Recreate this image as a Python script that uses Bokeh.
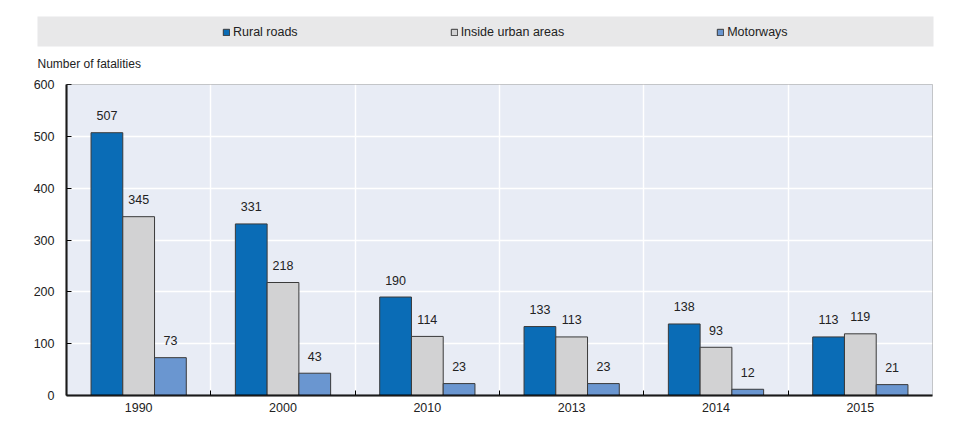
import numpy as np
from bokeh.plotting import figure
from bokeh.models import (ColumnDataSource, FixedTicker, Range1d, Legend, LegendItem,
                          BoxAnnotation, Label)
from bokeh.core.properties import value
from bokeh.embed import file_html
from bokeh.resources import INLINE

# ---- data ----
years = ["1990", "2000", "2010", "2013", "2014", "2015"]
rural_roads = [507, 331, 190, 133, 138, 113]
urban_areas = [345, 218, 114, 113, 93, 119]
motorways = [73, 43, 23, 23, 12, 21]
series_names = ["Rural roads", "Inside urban areas", "Motorways"]
y_ticks = [0, 100, 200, 300, 400, 500, 600]
y_label = "Number of fatalities"

# ---- style / geometry (pixels) ----
FONT = "Liberation Sans"
FS = "12.5px"
colors = ["#0a6cb6", "#d2d2d3", "#6a96d0"]
edge = "#3a3a3a"
bg = "#e8ecf5"
strip_bg = "#e8e8e9"
bar_w = 0.22

FR_L, FR_T, FR_W, FR_H = 20, 9, 920, 420      # frame position on the canvas
AREA_L, AREA_R, AREA_T, AREA_B = 66, 932, 84, 395  # plotting area (axes box)
n = len(years)
ymax = y_ticks[-1]
px_x = (AREA_R - AREA_L) / n
px_y = (AREA_B - AREA_T) / ymax


def dx(px):
    return (px - AREA_L) / px_x


def dy(py):
    return (AREA_B - py) / px_y


p = figure(frame_width=FR_W, frame_height=FR_H, min_border_left=FR_L, min_border_right=10,
           min_border_top=FR_T, min_border_bottom=4, toolbar_location=None,
           output_backend="svg",
           x_range=Range1d(dx(FR_L), dx(FR_L + FR_W)),
           y_range=Range1d(dy(FR_T + FR_H), dy(FR_T)))
p.background_fill_color = "white"
p.outline_line_color = None

# plotting area background
p.quad(left=[0], right=[n], bottom=[0], top=[ymax], fill_color=bg, line_color=None,
       level="image")

centers = np.arange(n) + 0.5
series = [rural_roads, urban_areas, motorways]
offsets = [-bar_w, 0.0, bar_w]

renderers = []
for vals, c, off in zip(series, colors, offsets):
    src = ColumnDataSource(dict(x=centers + off, top=vals, lab=[str(v) for v in vals]))
    r = p.vbar(x="x", top="top", width=bar_w, source=src, fill_color=c,
               line_color=edge, line_width=1)
    renderers.append(r)
    p.text(x="x", y="top", text="lab", source=src, text_align="center",
           text_baseline="middle", y_offset=-17, text_font=value(FONT),
           text_font_size=FS, text_color="#222222")

# outline of the plotting area (top / right edges visible)
p.add_layout(BoxAnnotation(left=0, right=n, bottom=0, top=ymax, fill_alpha=0,
                           line_color="#555555", line_width=1, level="guide"))

# legend strip
p.add_layout(BoxAnnotation(left=dx(37), right=dx(933), bottom=dy(46), top=dy(16),
                           fill_color=strip_bg, fill_alpha=1, line_color=None))
items = [LegendItem(label=s, renderers=[r]) for s, r in zip(series_names, renderers)]
legend = Legend(items=items, orientation="horizontal",
                location=(222 - FR_L, FR_T + FR_H - 39),
                spacing=152, padding=0, margin=0, glyph_width=8, glyph_height=8,
                label_height=14, label_standoff=3, label_text_font=FONT,
                label_text_font_size=FS, label_text_color="#222222",
                background_fill_alpha=0, border_line_color=None)
p.add_layout(legend, "center")

# y-axis title
p.add_layout(Label(x=dx(37), y=dy(63.8), text=y_label, text_font=FONT,
                   text_font_size="12px", text_color="#222222",
                   text_baseline="middle"))

# axes (placed at the data origin so the area can sit inside a larger frame)
p.xaxis.fixed_location = 0
p.xaxis.ticker = FixedTicker(ticks=list(centers), minor_ticks=list(range(1, n)))
p.xaxis.major_label_overrides = {float(c): y for c, y in zip(centers, years)}
p.xaxis.minor_tick_in = 5
p.xaxis.minor_tick_out = 0
p.xaxis.minor_tick_line_color = "black"
p.xaxis.major_label_standoff = 1
p.xaxis.bounds = (0, n)

p.yaxis.fixed_location = 0
p.yaxis.ticker = FixedTicker(ticks=y_ticks)
p.yaxis.major_tick_in = 5
p.yaxis.major_tick_out = 0
p.yaxis.minor_tick_line_color = None
p.yaxis.major_label_standoff = 12
p.yaxis.bounds = (0, ymax)

for ax in (p.xaxis[0], p.yaxis[0]):
    ax.axis_line_color = "black"
    ax.axis_line_width = 2
    ax.major_label_text_font = FONT
    ax.major_label_text_font_size = FS
    ax.major_label_text_color = "#222222"
p.xaxis.major_tick_line_color = None
p.yaxis.major_tick_line_color = "black"

p.xgrid.ticker = FixedTicker(ticks=list(range(1, n)))
p.ygrid.ticker = FixedTicker(ticks=y_ticks[1:-1])
p.grid.grid_line_color = "white"
p.grid.grid_line_width = 1.5

open("out.html", "w").write(file_html(p, INLINE))
